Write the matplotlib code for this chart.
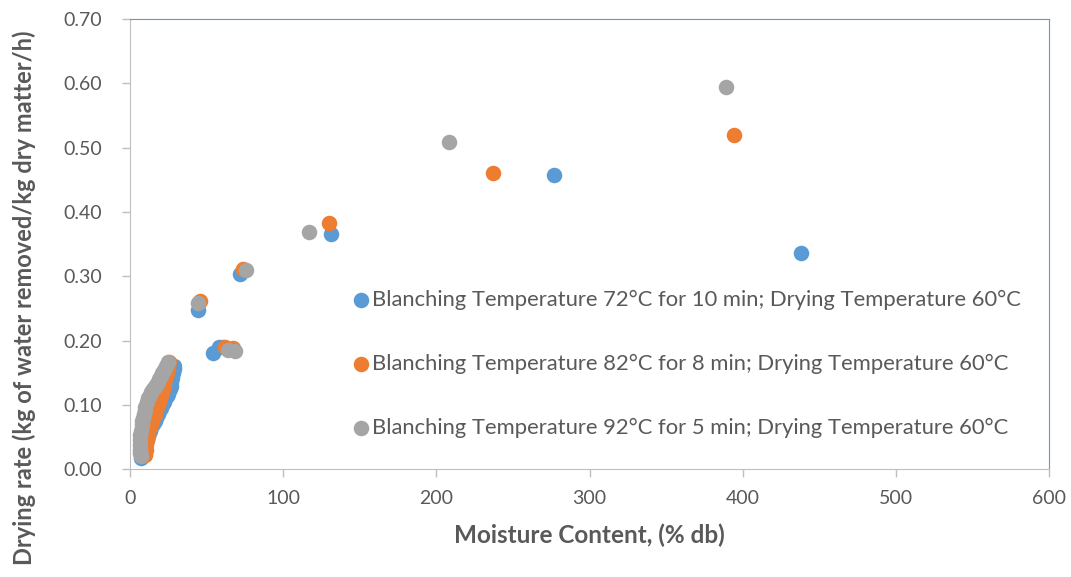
import matplotlib.pyplot as plt
import numpy as np

# moisture content (% db) and drying rate
mc_72 = [438, 277, 131, 72, 44.6, 54, 58.3, 61,
         29, 28.5, 28, 27.5, 27, 26.5, 26, 25, 24, 23, 22, 21, 20, 19, 18,
         17, 16, 15, 14, 13, 12, 11, 10, 9, 8, 7.5, 7]
dr_72 = [0.336, 0.457, 0.366, 0.303, 0.247, 0.180, 0.190, 0.190,
         0.160, 0.155, 0.150, 0.142, 0.135, 0.130, 0.125, 0.117, 0.113,
         0.110, 0.105, 0.100, 0.095, 0.090, 0.085, 0.080, 0.075, 0.070,
         0.065, 0.060, 0.052, 0.045, 0.038, 0.032, 0.025, 0.020, 0.018]

mc_82 = [394, 237, 130, 73.5, 46, 62, 67.5,
         25.5, 25, 24.5, 24, 23.5, 23, 22.5, 22, 21.5, 21, 20, 19.5, 19,
         18, 17, 16.5, 16, 15, 14, 13.5, 13, 12, 11.5, 11, 10.5, 10.5, 10]
dr_82 = [0.519, 0.461, 0.382, 0.312, 0.262, 0.190, 0.188,
         0.167, 0.160, 0.155, 0.150, 0.145, 0.140, 0.135, 0.130, 0.125,
         0.120, 0.115, 0.110, 0.105, 0.100, 0.095, 0.090, 0.085, 0.080,
         0.075, 0.070, 0.065, 0.060, 0.052, 0.045, 0.038, 0.030, 0.022]

mc_92 = [389, 208, 117, 76, 44.6, 64.2, 68.5,
         25, 23.5, 22, 21, 20, 19, 18, 17, 16, 15, 14, 13, 12, 11, 10, 9.5,
         9, 8.5, 8, 7.5, 7, 6.8, 6.6, 6.5, 6.5, 6.6, 6.9]
dr_92 = [0.595, 0.509, 0.368, 0.310, 0.258, 0.186, 0.184,
         0.166, 0.160, 0.154, 0.150, 0.145, 0.140, 0.135, 0.131, 0.128,
         0.124, 0.120, 0.115, 0.110, 0.104, 0.097, 0.092, 0.085, 0.080,
         0.075, 0.068, 0.060, 0.053, 0.045, 0.038, 0.030, 0.025, 0.020]

labels = ['Blanching Temperature 72°C for 10 min; Drying Temperature 60°C',
          'Blanching Temperature 82°C for 8 min; Drying Temperature 60°C',
          'Blanching Temperature 92°C for 5 min; Drying Temperature 60°C']
colors = ['#5B9BD5', '#ED7D31', '#A5A5A5']

plt.rcParams['font.family'] = ['Lato', 'DejaVu Sans']

fig = plt.figure(figsize=(10.71, 5.77), dpi=100)
ax = fig.add_axes([0.1214, 0.187, 0.8581, 0.780])

for xs, ys, c, lab in zip([mc_72, mc_82, mc_92], [dr_72, dr_82, dr_92], colors, labels):
    ax.scatter(xs, ys, s=125, color=c, label=lab, linewidths=0, zorder=3)

ax.set_xlim(0, 600)
ax.set_ylim(0, 0.70)
ax.set_xticks(np.arange(0, 601, 100))
ax.set_yticks(np.arange(0, 0.71, 0.1))
ax.set_yticklabels(['%.2f' % v for v in np.arange(0, 0.71, 0.1)])

txt = '#595959'
ax.tick_params(axis='both', colors='#BFBFBF', labelcolor=txt, labelsize=14,
               length=6, width=1, direction='out')
ax.tick_params(axis='y', pad=14)
ax.tick_params(axis='x', pad=9)
for side in ['left', 'bottom']:
    ax.spines[side].set_color('#BFBFBF')
for side in ['top', 'right']:
    ax.spines[side].set_color('#5B9BD5')

ax.set_xlabel('Moisture Content, (% db)', fontsize=17.5, fontweight='bold', color=txt, labelpad=12)
ax.set_ylabel('Drying rate (kg of water removed/kg dry matter/h)', fontsize=17,
              fontweight='bold', color=txt)
ax.yaxis.set_label_coords(-0.102, 0.38)

leg = ax.legend(loc='upper left', bbox_to_anchor=(0.239, 0.398), frameon=False,
                fontsize=15.8, labelspacing=2.0, handletextpad=0.0,
                handlelength=1.0, borderaxespad=0, borderpad=0)
for t in leg.get_texts():
    t.set_color(txt)

fig.savefig('out.png', dpi=100)
